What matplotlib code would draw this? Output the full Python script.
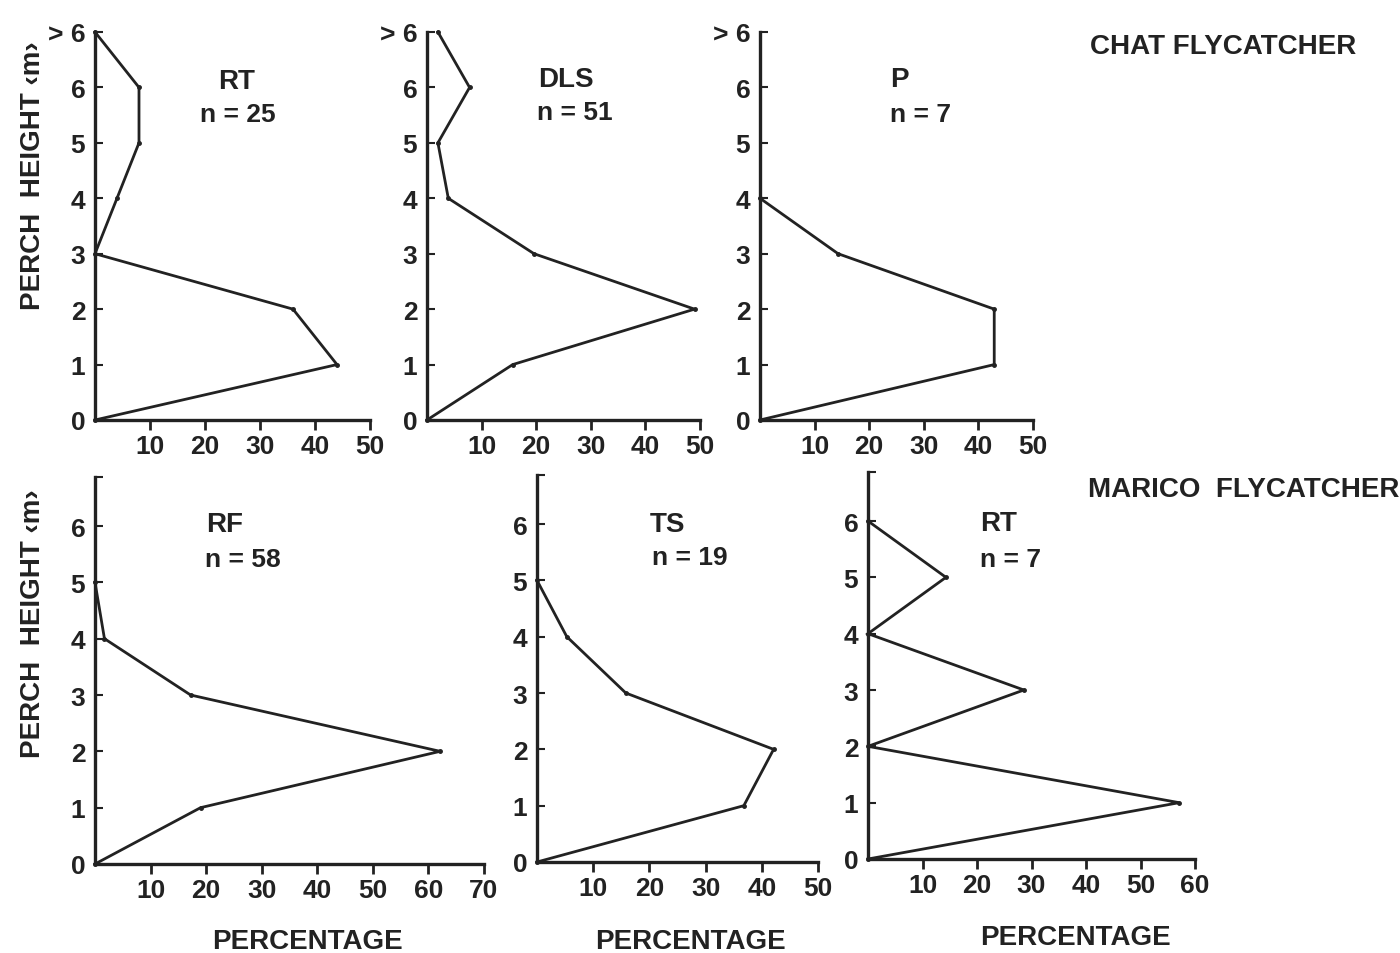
import matplotlib.pyplot as plt

plt.rcParams["font.family"] = ["Liberation Sans", "DejaVu Sans"]
plt.rcParams["font.weight"] = "bold"

heights = [0, 1, 2, 3, 4, 5, 6, 7]

# chat flycatcher, percentage of perches at each height
chat_rt = [0, 44, 36, 0, 4, 8, 8, 0]
chat_dls = [0, 15.7, 49.0, 19.6, 3.9, 2.0, 7.8, 2.0]
chat_p = [0, 42.9, 42.9, 14.3, 0]

# marico flycatcher
marico_rf = [0, 19.0, 62.1, 17.2, 1.7, 0]
marico_ts = [0, 36.8, 42.1, 15.8, 5.3, 0]
marico_rt = [0, 57.1, 0, 28.6, 0, 14.3, 0]

top_labels = ["0", "1", "2", "3", "4", "5", "6", "> 6"]
bottom_labels = ["0", "1", "2", "3", "4", "5", "6", ""]

W, H = 1400, 954


def px_box(x0, x1, y_bottom, y_top):
    return [x0 / W, 1 - y_bottom / H, (x1 - x0) / W, (y_bottom - y_top) / H]


def panel(fig, box, values, xmax, ymax, ylabels):
    ax = fig.add_axes(box)
    ax.plot(values, heights[:len(values)], color="#222222", lw=2.0,
            marker="o", ms=2.5, clip_on=False, solid_joinstyle="miter")
    ax.set_xlim(0, xmax)
    ax.set_ylim(0, ymax)
    for side in ["top", "right"]:
        ax.spines[side].set_visible(False)
    for side in ["left", "bottom"]:
        ax.spines[side].set_linewidth(2.4)
        ax.spines[side].set_color("#222222")
    ax.set_xticks(range(10, xmax + 1, 10))
    ax.set_yticks(list(range(0, 7)) + [ymax])
    ax.set_yticklabels(ylabels)
    ax.tick_params(axis="x", direction="out", length=7, width=2,
                   pad=3, labelsize=19, colors="#222222")
    ax.tick_params(axis="y", direction="in", length=6, width=1.5,
                   pad=7, labelsize=19, colors="#222222")
    return ax


fig = plt.figure(figsize=(14, 9.54), dpi=100)

panel(fig, px_box(95, 370, 421, 33), chat_rt, 50, 7, top_labels)
panel(fig, px_box(427, 700, 421, 33), chat_dls, 50, 7, top_labels)
panel(fig, px_box(760, 1033, 421, 33), chat_p, 50, 7, top_labels)

panel(fig, px_box(95, 484, 865, 478), marico_rf, 70, 6.87, bottom_labels)
panel(fig, px_box(537, 818, 863, 476), marico_ts, 50, 6.87, bottom_labels)
panel(fig, px_box(868, 1195, 860, 473), marico_rt, 60, 6.87, bottom_labels)


def ftext(x, y, s, **kw):
    fig.text(x / W, 1 - y / H, s, color="#222222", fontweight="bold", **kw)


# panel annotations
ftext(218, 82, "RT", fontsize=20, va="center")
ftext(200, 115, "n = 25", fontsize=19, va="center")
ftext(538, 80, "DLS", fontsize=20, va="center")
ftext(537, 113, "n = 51", fontsize=19, va="center")
ftext(890, 80, "P", fontsize=20, va="center")
ftext(890, 115, "n = 7", fontsize=19, va="center")
ftext(206, 525, "RF", fontsize=20, va="center")
ftext(205, 560, "n = 58", fontsize=19, va="center")
ftext(650, 525, "TS", fontsize=20, va="center")
ftext(652, 558, "n = 19", fontsize=19, va="center")
ftext(980, 524, "RT", fontsize=20, va="center")
ftext(980, 560, "n = 7", fontsize=19, va="center")

ftext(1090, 47, "CHAT FLYCATCHER", fontsize=20, va="center")
ftext(1088, 490, "MARICO  FLYCATCHER", fontsize=20, va="center")

ftext(33, 176, "PERCH  HEIGHT ‹m›", fontsize=20, rotation=90,
      ha="center", va="center")
ftext(33, 624, "PERCH  HEIGHT ‹m›", fontsize=20, rotation=90,
      ha="center", va="center")

ftext(307, 942, "PERCENTAGE", fontsize=20, ha="center", va="center")
ftext(690, 942, "PERCENTAGE", fontsize=20, ha="center", va="center")
ftext(1075, 938, "PERCENTAGE", fontsize=20, ha="center", va="center")

fig.savefig("out.png", dpi=100, facecolor="white")
